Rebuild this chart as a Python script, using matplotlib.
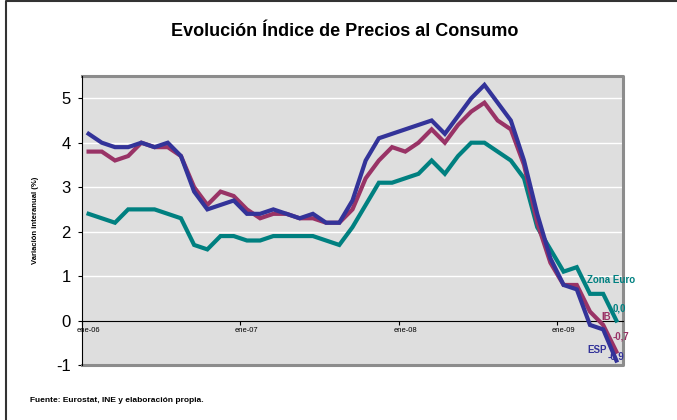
import matplotlib.pyplot as plt
import numpy as np

plt.rcParams['font.family'] = ['Liberation Sans', 'DejaVu Sans']
plt.rcParams['axes.unicode_minus'] = False

# Variación interanual del IPC, ene-06 a may-09
meses = ['ene-06', 'ene-07', 'ene-08', 'ene-09']
esp = [4.2, 4.0, 3.9, 3.9, 4.0, 3.9, 4.0, 3.7, 2.9, 2.5, 2.6, 2.7,
       2.4, 2.4, 2.5, 2.4, 2.3, 2.4, 2.2, 2.2, 2.7, 3.6, 4.1, 4.2,
       4.3, 4.4, 4.5, 4.2, 4.6, 5.0, 5.3, 4.9, 4.5, 3.6, 2.4, 1.4,
       0.8, 0.7, -0.1, -0.2, -0.9]
ib = [3.8, 3.8, 3.6, 3.7, 4.0, 3.9, 3.9, 3.7, 3.0, 2.6, 2.9, 2.8,
      2.5, 2.3, 2.4, 2.4, 2.3, 2.3, 2.2, 2.2, 2.5, 3.2, 3.6, 3.9,
      3.8, 4.0, 4.3, 4.0, 4.4, 4.7, 4.9, 4.5, 4.3, 3.5, 2.2, 1.3,
      0.8, 0.8, 0.2, -0.1, -0.7]
zona_euro = [2.4, 2.3, 2.2, 2.5, 2.5, 2.5, 2.4, 2.3, 1.7, 1.6, 1.9, 1.9,
             1.8, 1.8, 1.9, 1.9, 1.9, 1.9, 1.8, 1.7, 2.1, 2.6, 3.1, 3.1,
             3.2, 3.3, 3.6, 3.3, 3.7, 4.0, 4.0, 3.8, 3.6, 3.2, 2.1, 1.6,
             1.1, 1.2, 0.6, 0.6, 0.0]

c_esp, c_ib, c_ze = '#333399', '#993366', '#008080'

fig = plt.figure(figsize=(6.77, 4.2), dpi=100)
ax = fig.add_axes([0.1211, 0.131, 0.7991, 0.688])
ax.set_facecolor('#dedede')

n = len(esp)
x = np.arange(n) + 0.5
ax.set_xlim(0, n)
ax.set_ylim(-1, 5.5)

for v in range(1, 6):
    ax.axhline(v, color='white', lw=1, zorder=1)

ax.plot(x, zona_euro, color=c_ze, lw=3, zorder=4, solid_joinstyle='miter')
ax.plot(x, ib, color=c_ib, lw=3, zorder=4, solid_joinstyle='miter')
ax.plot(x, esp, color=c_esp, lw=3, zorder=5, solid_joinstyle='miter')

# etiquetas finales
def fmt(v):
    return f"{v:.1f}".replace('.', ',')

lab = dict(fontsize=7, fontweight='bold', textcoords='offset points',
           ha='left', va='center', zorder=3.5, annotation_clip=False)
ax.annotate('Zona Euro', (x[-1], zona_euro[-1]), xytext=(-21, 29), color=c_ze, **lab)
ax.annotate(fmt(zona_euro[-1]), (x[-1], zona_euro[-1]), xytext=(-3, 8.5), color=c_ze, **lab)
ax.annotate('IB', (x[-1], ib[-1]), xytext=(-11, 25), color=c_ib, **lab)
ax.annotate(fmt(ib[-1]), (x[-1], ib[-1]), xytext=(-2.5, 11), color=c_ib, **lab)
ax.annotate('ESP', (x[-1], esp[-1]), xytext=(-21, 7.5), color=c_esp, **lab)
ax.annotate(fmt(esp[-1]), (x[-1], esp[-1]), xytext=(-6, 3), color=c_esp, **lab)

# ejes
for s in ['top', 'right']:
    ax.spines[s].set_visible(False)
ax.spines['left'].set_color('black')
ax.spines['left'].set_linewidth(0.8)
ax.spines['left'].set_zorder(6)
ax.spines['bottom'].set_position(('data', 0))
ax.spines['bottom'].set_color('black')
ax.spines['bottom'].set_linewidth(0.8)
ax.spines['bottom'].set_zorder(3)
ax.plot([0, 1, 1, 0], [1, 1, 0, 0], color='#8c8c8c', lw=2.2,
        transform=ax.transAxes, clip_on=False, zorder=3)

ax.set_yticks(range(-1, 6))
ax.tick_params(axis='y', labelsize=12, length=3, width=0.8, pad=5, direction='out')
ax.set_xticks([12 * i for i in range(len(meses))])
ax.set_xticklabels([])
ax.set_xticks([12 * i + 0.5 for i in range(len(meses))], minor=True)
ax.set_xticklabels(meses, minor=True)
ax.tick_params(axis='x', which='major', length=3, width=0.8, direction='out')
ax.tick_params(axis='x', which='minor', length=0, labelsize=5.5, pad=5)

ax.set_ylabel('Variación interanual (%)', fontsize=5.5, fontweight='bold', labelpad=12)

fig.text(0.509, 1 - 31 / 420, 'Evolución Índice de Precios al Consumo',
         ha='center', va='center', fontsize=13, fontweight='bold')
fig.text(30 / 677, 1 - 401 / 420, 'Fuente: Eurostat, INE y elaboración propia.',
         ha='left', va='center', fontsize=6, fontweight='bold')

# marco de la figura
fig.add_artist(plt.Line2D([6 / 677, 6 / 677, 1], [0, 1 - 1 / 420, 1 - 1 / 420],
                          color='#333333', lw=1.5))

fig.savefig('out.png', dpi=100)
